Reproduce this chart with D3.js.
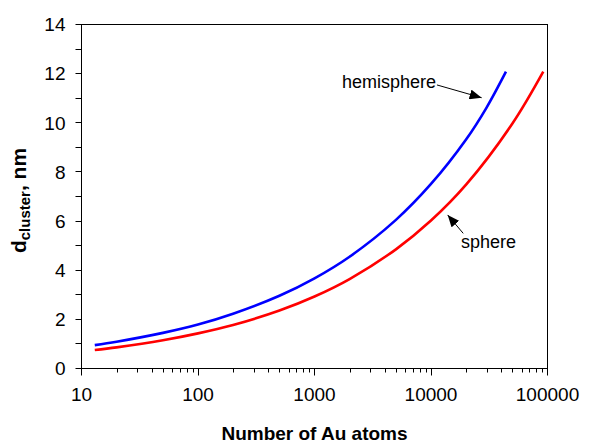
<!DOCTYPE html>
<html>
<head>
<meta charset="utf-8">
<script src="https://cdn.jsdelivr.net/npm/d3@7/dist/d3.min.js"></script>
<style>
	body { margin: 0; background: #fff; }
	svg { display: block; font-family: 'Liberation Sans', Arial, sans-serif; }
	.curve { fill: none; stroke-width: 2.6; stroke-linejoin: round; }
	.frame { fill: none; stroke: #000; stroke-width: 1; }
	.tick-label { font-size: 19px; fill: #000; }
	.axis-title { font-size: 19px; font-weight: bold; fill: #000; }
	.note { font-size: 18px; fill: #000; }
</style>
</head>
<body>
<svg id="chart"></svg>
<script>
// Values (number of atoms -> diameter, nm)
const hemisphereAtoms = [ 13, 20, 50, 100, 200, 500, 1000, 2000, 5000, 10000, 20000, 30000, 44000 ];
const hemisphereDiameter = [ 0.95, 1.09, 1.45, 1.79, 2.23, 2.96, 3.67, 4.55, 6.05, 7.51, 9.32, 10.62, 12.08 ];

const sphereAtoms = [ 13, 20, 50, 100, 200, 500, 1000, 2000, 5000, 10000, 20000, 50000, 92000 ];
const sphereDiameter = [ 0.75, 0.86, 1.15, 1.43, 1.77, 2.36, 2.93, 3.64, 4.85, 6.02, 7.48, 9.97, 12.08 ];

const xTickValues = [ 10, 100, 1000, 10000, 100000 ];
const yTickValues = [ 0, 2, 4, 6, 8, 10, 12, 14 ];

// Annotation text and arrow, in data units: [ atoms, nm ]
const notes = [
	{ text: 'hemisphere', label: [ 1720, 11.42 ], from: [ 11250, 11.54 ], to: [ 27200, 11.02 ] },
	{ text: 'sphere', label: [ 18100, 4.9 ], from: [ 18900, 5.5 ], to: [ 13900, 6.25 ] },
];

const config = {
	width: 616,
	height: 444,
	margin: { top: 24.5, right: 68.5, bottom: 75.5, left: 81.5 },
};

const { width, height, margin } = config;

const svg = d3.select( '#chart' )
	.attr( 'width', width )
	.attr( 'height', height );

const xScale = d3.scaleLog()
	.domain( [ 10, 100000 ] )
	.range( [ margin.left, width - margin.right ] );

const yScale = d3.scaleLinear()
	.domain( [ 0, 14 ] )
	.range( [ height - margin.bottom, margin.top ] );

const plotBottom = yScale( 0 );
const plotLeft = xScale( 10 );

// minor ticks, 2..9 of every decade
const xMinor = [];
for ( let decade = 10; decade < 100000; decade *= 10 ) {
	for ( let k = 2; k < 10; k++ ) {
		xMinor.push( decade * k );
	}
}

svg.append( 'g' )
	.selectAll( 'line' )
	.data( xMinor )
	.join( 'line' )
	.attr( 'x1', ( d ) => Math.round( xScale( d ) ) + 0.5 )
	.attr( 'x2', ( d ) => Math.round( xScale( d ) ) + 0.5 )
	.attr( 'y1', plotBottom )
	.attr( 'y2', plotBottom + 4 )
	.attr( 'stroke', '#000' );

svg.append( 'g' )
	.selectAll( 'line' )
	.data( xTickValues )
	.join( 'line' )
	.attr( 'x1', ( d ) => Math.round( xScale( d ) - 0.5 ) + 0.5 )
	.attr( 'x2', ( d ) => Math.round( xScale( d ) - 0.5 ) + 0.5 )
	.attr( 'y1', plotBottom )
	.attr( 'y2', plotBottom + 7 )
	.attr( 'stroke', '#000' );

svg.append( 'g' )
	.selectAll( 'text' )
	.data( xTickValues )
	.join( 'text' )
	.attr( 'class', 'tick-label' )
	.attr( 'x', ( d ) => xScale( d ) )
	.attr( 'y', plotBottom + 32 )
	.attr( 'text-anchor', 'middle' )
	.text( ( d ) => d );

svg.append( 'g' )
	.selectAll( 'line' )
	.data( d3.range( 0, 15 ) )
	.join( 'line' )
	.attr( 'x1', plotLeft - 6 )
	.attr( 'x2', plotLeft )
	.attr( 'y1', ( d ) => Math.round( yScale( d ) - 0.5 ) + 0.5 )
	.attr( 'y2', ( d ) => Math.round( yScale( d ) - 0.5 ) + 0.5 )
	.attr( 'stroke', '#000' );

svg.append( 'g' )
	.selectAll( 'text' )
	.data( yTickValues )
	.join( 'text' )
	.attr( 'class', 'tick-label' )
	.attr( 'x', plotLeft - 16 )
	.attr( 'y', ( d ) => yScale( d ) )
	.attr( 'dy', '0.36em' )
	.attr( 'text-anchor', 'end' )
	.text( ( d ) => d );

svg.append( 'rect' )
	.attr( 'class', 'frame' )
	.attr( 'x', plotLeft )
	.attr( 'y', margin.top )
	.attr( 'width', width - margin.right - margin.left )
	.attr( 'height', plotBottom - margin.top );

const line = d3.line()
	.x( ( d ) => xScale( d[ 0 ] ) )
	.y( ( d ) => yScale( d[ 1 ] ) )
	.curve( d3.curveCatmullRom.alpha( 0.5 ) );

svg.append( 'path' )
	.datum( d3.zip( sphereAtoms, sphereDiameter ) )
	.attr( 'class', 'curve' )
	.attr( 'stroke', '#ff0000' )
	.attr( 'd', line );

svg.append( 'path' )
	.datum( d3.zip( hemisphereAtoms, hemisphereDiameter ) )
	.attr( 'class', 'curve' )
	.attr( 'stroke', '#0000ff' )
	.attr( 'd', line );

// arrows
svg.append( 'defs' )
	.append( 'marker' )
	.attr( 'id', 'arrow' )
	.attr( 'viewBox', '0 0 12 10' )
	.attr( 'refX', 12 )
	.attr( 'refY', 5 )
	.attr( 'markerUnits', 'userSpaceOnUse' )
	.attr( 'markerWidth', 12 )
	.attr( 'markerHeight', 10 )
	.attr( 'orient', 'auto' )
	.append( 'path' )
	.attr( 'd', 'M0,0L12,5L0,10Z' )
	.attr( 'fill', '#000' );

const noteGroup = svg.append( 'g' );

noteGroup.selectAll( 'line' )
	.data( notes )
	.join( 'line' )
	.attr( 'x1', ( d ) => xScale( d.from[ 0 ] ) )
	.attr( 'y1', ( d ) => yScale( d.from[ 1 ] ) )
	.attr( 'x2', ( d ) => xScale( d.to[ 0 ] ) )
	.attr( 'y2', ( d ) => yScale( d.to[ 1 ] ) )
	.attr( 'stroke', '#000' )
	.attr( 'stroke-width', 1 )
	.attr( 'marker-end', 'url(#arrow)' );

noteGroup.selectAll( 'text' )
	.data( notes )
	.join( 'text' )
	.attr( 'class', 'note' )
	.attr( 'x', ( d ) => xScale( d.label[ 0 ] ) )
	.attr( 'y', ( d ) => yScale( d.label[ 1 ] ) )
	.text( ( d ) => d.text );

// axis titles
svg.append( 'text' )
	.attr( 'class', 'axis-title' )
	.attr( 'x', ( plotLeft + width - margin.right ) / 2 )
	.attr( 'y', 440 )
	.attr( 'text-anchor', 'middle' )
	.text( 'Number of Au atoms' );

const yTitle = svg.append( 'text' )
	.attr( 'class', 'axis-title' )
	.style( 'font-size', '21px' )
	.attr( 'transform', `translate(26,${ ( margin.top + plotBottom ) / 2 + 4 }) rotate(-90)` )
	.attr( 'text-anchor', 'middle' );

yTitle.append( 'tspan' ).text( 'd' );
yTitle.append( 'tspan' )
	.attr( 'font-size', '15px' )
	.attr( 'dy', 4 )
	.text( 'cluster' );
yTitle.append( 'tspan' )
	.attr( 'dy', -4 )
	.text( ', nm' );
</script>
</body>
</html>
